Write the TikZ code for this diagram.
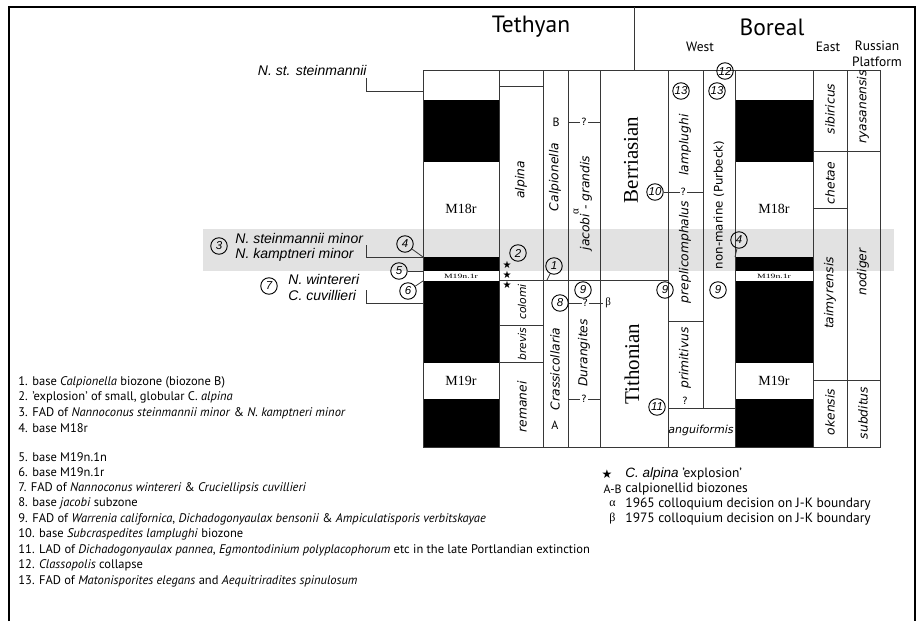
\documentclass[tikz,border=0pt]{standalone}
\usepackage{fontspec}
\setmainfont{PT Sans}
\newfontfamily\timesfont{Liberation Serif}
\newfontfamily\arialfont{Liberation Sans}
\newfontfamily\zonefont{DejaVu Sans}
\definecolor{bandgray}{RGB}{226,226,226}
\definecolor{linegray}{RGB}{55,55,55}
\tikzset{
  numc/.style={circle, draw=black, line width=0.9pt, minimum size=16.5pt, inner sep=0pt,
    font=\arialfont\itshape\fontsize{11.5}{11.5}\selectfont},
  zone/.style={rotate=90, inner sep=0pt, font=\zonefont\itshape\fontsize{12.3}{12.3}\selectfont},
  smallzone/.style={zone, font=\zonefont\itshape\fontsize{10.8}{10.8}\selectfont},
  zoneup/.style={rotate=90, inner sep=0pt, font=\zonefont\fontsize{11.8}{11.8}\selectfont},
  stage/.style={rotate=90, inner sep=0pt, font=\timesfont\fontsize{21}{21}\selectfont},
  chron/.style={font=\timesfont\fontsize{14}{14}\selectfont},
  subchron/.style={inner sep=0pt, xscale=1.5, font=\timesfont\fontsize{6.5}{6.5}\selectfont},
  taxon/.style={inner sep=0pt, font=\arialfont\itshape\fontsize{14}{14}\selectfont},
  realm/.style={font=\fontsize{23.5}{23.5}\selectfont},
  region/.style={font=\fontsize{13.5}{13.5}\selectfont},
  biozone/.style={font=\fontsize{12}{12}\selectfont},
  legline/.style={anchor=west, inner sep=0pt, font=\fontsize{12.5}{12.5}\selectfont},
  keyline/.style={anchor=west, inner sep=0pt, font=\fontsize{13.5}{13.5}\selectfont},
  qmark/.style={fill=white, inner sep=1pt, font=\zonefont\fontsize{10}{10}\selectfont},
  greek/.style={inner sep=0pt, font=\timesfont\fontsize{11}{11}\selectfont},
  smallstar/.style={inner sep=0pt, font=\zonefont\fontsize{10}{10}\selectfont},
}
\begin{document}
\begin{tikzpicture}[x=1pt, y=-1pt, line width=0.8pt, draw=linegray]
\useasboundingbox (0,0) rectangle (918,621);
% grey band across the chart
\fill[bandgray] (203,229) rectangle (894,271);
% frame and realm divider
\draw[line width=1.5pt, black] (9,621) -- (9,7) -- (915,7) -- (915,621);
\draw (634,7) -- (634,70.7);
\node[realm] (tethyan) at (531,27) {Tethyan};
\node[realm] (boreal) at (772,27) {Boreal};
\node[region] (west) at (700,47) {West};
\node[region] (east) at (828,47) {East};
\node[region] (russian) at (877,46) {Russian};
\node[region] (platform) at (877,62) {Platform};

% Tethyan magnetic column
\fill (423,100) rectangle (499,162);
\fill (423,257) rectangle (499,271);
\fill (423,281) rectangle (499,363);
\fill (423,399) rectangle (499,447);
\draw (423,70.7) rectangle (499,447);
\node[chron] (m18rT) at (461,209) {M18r};
\node[subchron] (m19nT) at (461,276) {M19n.1r};
\node[chron] (m19rT) at (461,381) {M19r};

% Tethyan zones
\draw (499,70.7) rectangle (543,447);
\draw (499,86) -- (543,86);
\draw (499,325) -- (543,325);
\draw (499,362) -- (543,362);
\draw (543,70.7) rectangle (568,447);
\draw (568,70.7) rectangle (600,447);
\draw (600,70.7) rectangle (668,447);
\draw (499,280) -- (668,280);
\node[zone] (alpina) at (521,180) {alpina};
\node[smallzone] (colomi) at (522,302) {colomi};
\node[smallzone] (brevis) at (522,344) {brevis};
\node[zone] (remanei) at (522,407) {remanei};
\node[zone] (calpionella) at (555,177) {Calpionella};
\node[biozone] (zoneB) at (556,122) {B};
\node[zone] (crassicollaria) at (555,369) {Crassicollaria};
\node[biozone] (zoneA) at (555,425) {A};
\node[zone] (jacobi) at (586,203) {jacobi - grandis};
\node[greek, rotate=90] (alpha) at (576,212) {α};
\node[zone] (durangites) at (584,353) {Durangites};
\node[stage] (berriasian) at (631,160) {Berriasian};
\node[stage] (tithonian) at (632,364) {Tithonian};
\coordinate (qa1) at (568,122);
\coordinate (qa2) at (600,122);
\draw (qa1) -- node[qmark] {?} (qa2);
\coordinate (qb1) at (568,399);
\coordinate (qb2) at (600,399);
\draw (qb1) -- node[qmark] {?} (qb2);

% Boreal west columns
\draw (668,70.7) rectangle (703,408);
\draw (703,70.7) rectangle (735,408);
\draw (668,321) -- (703,321);
\draw (668,408) rectangle (735,447);
\node[zone] (lamplughi) at (685,145) {lamplughi};
\node[zone] (preplicomphalus) at (685,252) {preplicomphalus};
\node[zone] (primitivus) at (685,358) {primitivus};
\node[qmark, fill=none] (qprim) at (685,401) {?};
\node[zone, rotate=-90, font=\zonefont\itshape\fontsize{11}{11}\selectfont] (anguiformis) at (701,430) {anguiformis};
\node[zoneup] (nonmarine) at (719,205) {non-marine (Purbeck)};

% Boreal magnetic column
\fill (735,100) rectangle (813,162);
\fill (735,257) rectangle (813,271);
\fill (735,281) rectangle (813,363);
\fill (735,399) rectangle (813,447);
\draw (735,70.7) rectangle (813,447);
\node[chron] (m18rB) at (774,209) {M18r};
\node[subchron] (m19nB) at (774,276) {M19n.1r};
\node[chron] (m19rB) at (774,381) {M19r};

% Boreal east and Russian Platform
\draw (813,70.7) rectangle (847,447);
\draw (847,70.7) rectangle (880,447);
\draw (813,151) -- (880,151);
\draw (813,208) -- (847,208);
\draw (813,380) -- (880,380);
\node[zone] (sibiricus) at (830,109) {sibiricus};
\node[zone] (chetae) at (830,183) {chetae};
\node[zone] (taimyrensis) at (830,293) {taimyrensis};
\node[zone] (okensis) at (830,412) {okensis};
\node[zone] (ryasanensis) at (863,107) {ryasanensis};
\node[zone] (nodiger) at (863,272) {nodiger};
\node[zone] (subditus) at (863,413) {subditus};

% nannofossil events on the left
\node[taxon, anchor=east] (nst) at (367,70) {N. st. steinmannii};
\coordinate (nst1) at (366,78);
\coordinate (nst2) at (423,91);
\draw (nst1) |- (nst2);
\node[numc] (n3) at (219,246) {3};
\node[taxon, anchor=west] (nsm) at (235,238) {N. steinmannii minor};
\node[taxon, anchor=west] (nkm) at (235,255) {N. kamptneri minor};
\coordinate (nkm1) at (366,245);
\coordinate (nkm2) at (423,257);
\draw (nkm1) |- (nkm2);
\node[numc] (n7) at (269,286) {7};
\node[taxon, anchor=west] (nwi) at (288,279) {N. wintereri};
\node[taxon, anchor=west] (ccu) at (288,295) {C. cuvillieri};
\coordinate (ccu1) at (366,290);
\coordinate (ccu2) at (423,303);
\draw (ccu1) |- (ccu2);

% numbered events
\node[numc] (n4) at (405,244) {4};
\draw (n4) -- (nkm2);
\node[numc] (n5) at (399,271) {5};
\coordinate (b5) at (423,271);
\draw (n5) -- (b5);
\node[numc] (n6) at (408,291) {6};
\coordinate (b6) at (423,281);
\draw (n6) -- (b6);
\node[numc] (n2) at (518,253) {2};
\node[smallstar] (star1) at (507,265) {★};
\node[smallstar] (star2) at (507,275) {★};
\node[smallstar] (star3) at (507,285) {★};
\node[numc] (n1) at (554,266) {1};
\coordinate (b1) at (547,280);
\draw (n1) -- (b1);
\node[numc] (n8) at (560,303) {8};
\coordinate (b8) at (603,303);
\draw (n8) -- node[qmark, pos=0.48] {?} (b8);
\node[greek, anchor=west] (beta) at (605,303) {β};
\node[numc] (n9a) at (583,290) {9};
\node[numc] (n9b) at (665,290) {9};
\node[numc] (n9c) at (718,290) {9};
\node[numc] (n10) at (655,192) {10};
\coordinate (b10) at (703,192);
\draw (n10) -- node[qmark] {?} (b10);
\node[numc] (n11) at (657,407) {11};
\node[numc] (n12) at (725,71) {12};
\node[numc] (n13a) at (681,91) {13};
\node[numc] (n13b) at (717,91) {13};
\node[numc] (n4b) at (739,240) {4};
\coordinate (b4b) at (735,257);
\draw (n4b) -- (b4b);

% numbered legend
\node[legline] (l1) at (18,382) {1. base \textit{Calpionella} biozone (biozone B)};
\node[legline] (l2) at (18,397.5) {2. 'explosion' of small, globular C. \textit{alpina}};
\node[legline] (l3) at (18,413) {3. FAD of \textit{Nannoconus steinmannii minor} \& \textit{N. kamptneri minor}};
\node[legline] (l4) at (18,428.5) {4. base M18r};
\node[legline] (l5) at (18,457) {5. base M19n.1n};
\node[legline] (l6) at (18,472.5) {6. base M19n.1r};
\node[legline] (l7) at (18,488) {7. FAD of \textit{Nannoconus wintereri} \& \textit{Cruciellipsis cuvillieri}};
\node[legline] (l8) at (18,503.5) {8. base \textit{jacobi} subzone};
\node[legline] (l9) at (18,519) {9. FAD of \textit{Warrenia californica}, \textit{Dichadogonyaulax bensonii} \& \textit{Ampiculatisporis verbitskayae}};
\node[legline] (l10) at (18,534.5) {10. base \textit{Subcraspedites lamplughi} biozone};
\node[legline] (l11) at (18,550) {11. LAD of \textit{Dichadogonyaulax pannea}, \textit{Egmontodinium polyplacophorum} etc in the late Portlandian extinction};
\node[legline] (l12) at (18,565.5) {12. \textit{Classopolis} collapse};
\node[legline] (l13) at (18,581) {13. FAD of \textit{Matonisporites elegans} and \textit{Aequitriradites spinulosum}};

% symbol legend
\node[inner sep=0pt, font=\zonefont\fontsize{12}{12}\selectfont] (kstar) at (607,474) {★};
\node[keyline] (kstart) at (625,474) {{\arialfont\itshape C. alpina} 'explosion'};
\node[keyline, anchor=east, font=\fontsize{12}{12}\selectfont] (kab) at (622,489) {A-B};
\node[keyline] (kabt) at (625,489) {calpionellid biozones};
\node[keyline, font=\timesfont\fontsize{12}{12}\selectfont] (kalpha) at (609,504) {α};
\node[keyline] (kalphat) at (625,504) {1965 colloquium decision on J-K boundary};
\node[keyline, font=\timesfont\fontsize{12}{12}\selectfont] (kbeta) at (609,519) {β};
\node[keyline] (kbetat) at (625,519) {1975 colloquium decision on J-K boundary};
\end{tikzpicture}
\end{document}
